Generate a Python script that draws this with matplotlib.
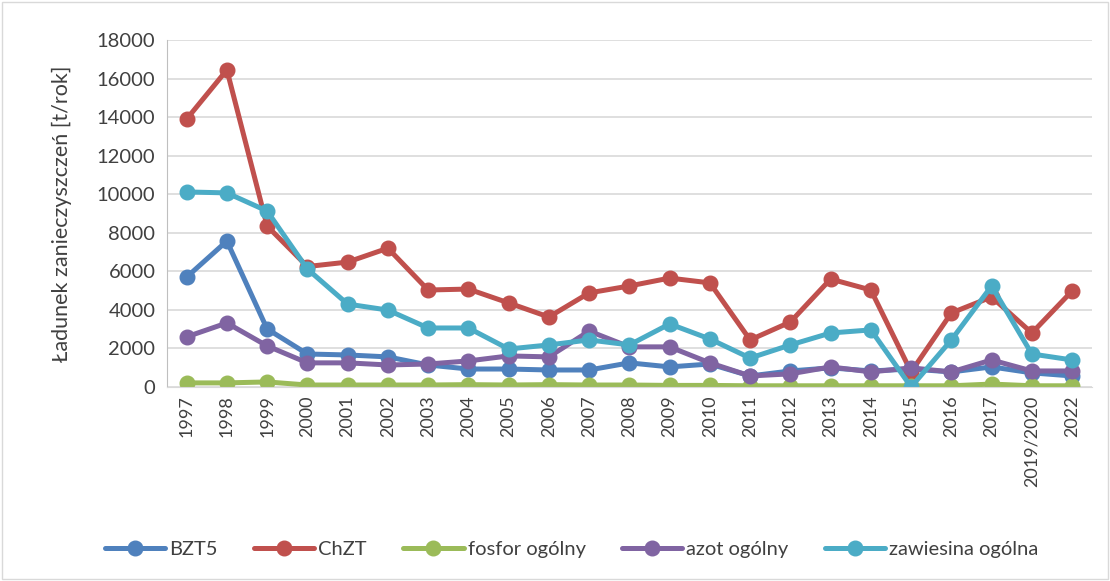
import matplotlib.pyplot as plt
from matplotlib.patches import Rectangle

plt.rcParams['font.family'] = ['Lato', 'DejaVu Sans']

lata = ['1997', '1998', '1999', '2000', '2001', '2002', '2003', '2004', '2005',
        '2006', '2007', '2008', '2009', '2010', '2011', '2012', '2013', '2014',
        '2015', '2016', '2017', '2019/2020', '2022']

bzt5 = [5700, 7570, 3010, 1710, 1660, 1560, 1140, 930, 930, 880, 880, 1250,
        1040, 1190, 570, 830, 990, 830, 930, 780, 1040, 730, 570]
chzt = [13900, 16450, 8350, 6250, 6480, 7200, 5030, 5080, 4360, 3630, 4880,
        5240, 5650, 5400, 2440, 3370, 5600, 5030, 780, 3840, 4670, 2800, 4980]
fosfor = [210, 210, 260, 100, 100, 100, 100, 120, 100, 120, 100, 100, 80, 80,
          60, 60, 60, 60, 60, 60, 150, 60, 60]
azot = [2600, 3320, 2130, 1250, 1250, 1140, 1190, 1350, 1610, 1560, 2900,
        2080, 2080, 1250, 570, 680, 1040, 780, 990, 780, 1400, 830, 830]
zawiesina = [10120, 10070, 9130, 6120, 4300, 3990, 3060, 3060, 1970, 2180,
             2440, 2180, 3270, 2490, 1500, 2180, 2800, 2960, 0, 2440, 5240,
             1710, 1400]

serie = [
    ('BZT5', bzt5, '#4F81BD'),
    ('ChZT', chzt, '#C0504D'),
    ('fosfor ogólny', fosfor, '#9BBB59'),
    ('azot ogólny', azot, '#8064A2'),
    ('zawiesina ogólna', zawiesina, '#4BACC6'),
]

fig = plt.figure(figsize=(11.10, 5.81), dpi=100)
ax = fig.add_axes([0.150, 0.334, 0.834, 0.597])

x = range(len(lata))
for nazwa, wartosci, kolor in serie:
    ax.plot(x, wartosci, color=kolor, linewidth=3.6, marker='o',
            markersize=10.5, label=nazwa, solid_capstyle='round')

ax.set_xlim(-0.5, len(lata) - 0.5)
ax.set_ylim(0, 18000)
ax.set_yticks(range(0, 18001, 2000))
ax.set_xticks(list(x))
ax.set_xticklabels(lata, rotation=90, fontsize=13, color='#404040')
ax.tick_params(axis='y', labelsize=14.5, colors='#404040', length=0, pad=8)
ax.tick_params(axis='x', length=0, pad=6)
ax.grid(axis='y', color='#D9D9D9', linewidth=1.2)
ax.set_axisbelow(True)
for s in ['top', 'right']:
    ax.spines[s].set_visible(False)
ax.spines['left'].set_color('#BFBFBF')
ax.spines['bottom'].set_color('#D9D9D9')
ax.set_ylabel('Ładunek zanieczyszczeń [t/rok]', fontsize=15.5, color='#404040',
              labelpad=18)

fig.legend(loc='center', bbox_to_anchor=(0.515, 0.055), ncol=5, frameon=False,
           fontsize=14.5, handlelength=3, columnspacing=1.8, handletextpad=0.2,
           labelcolor='#404040')

fig.patches.append(Rectangle((0.002, 0.003), 0.996, 0.994,
                             transform=fig.transFigure, fill=False,
                             edgecolor='#D9D9D9', linewidth=1))

fig.savefig('out.png', dpi=100)
